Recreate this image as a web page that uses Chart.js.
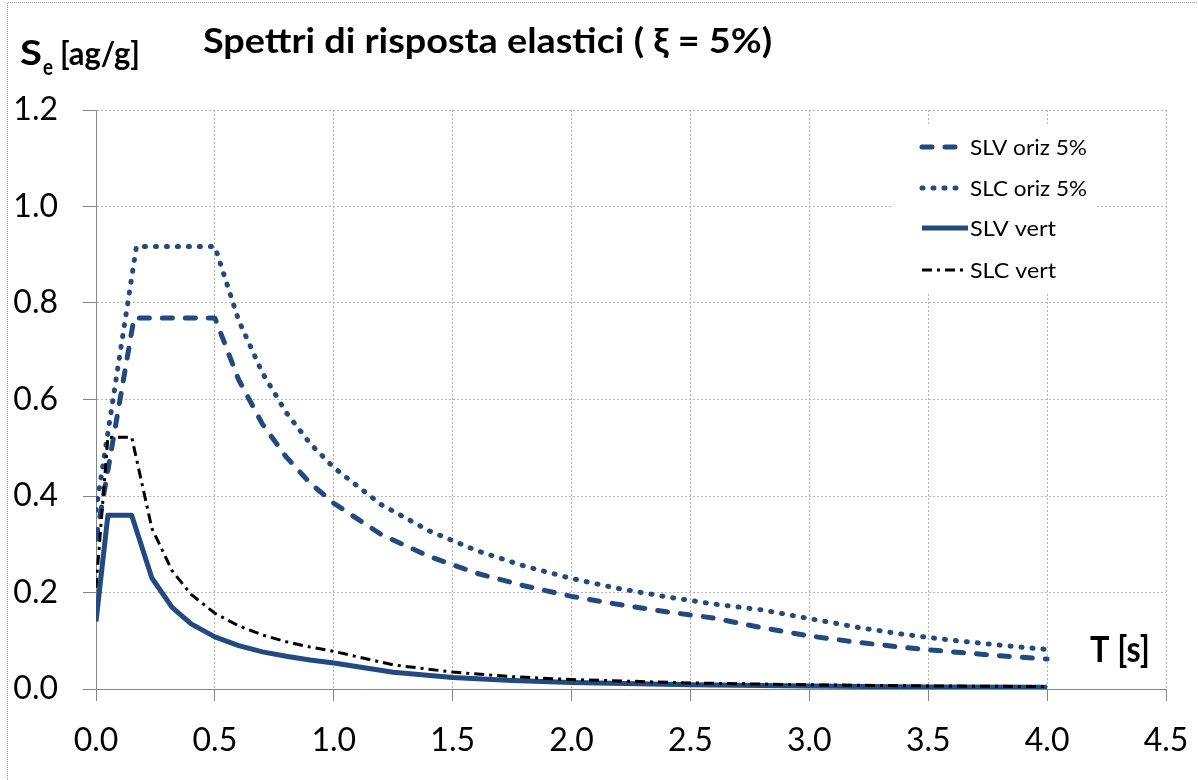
<!DOCTYPE html>
<html>
<head>
<meta charset="utf-8">
<script src="https://cdn.jsdelivr.net/npm/chart.js@4.4.0/dist/chart.umd.min.js"></script>
<style>
  html, body { margin: 0; padding: 0; background: #fff; }
  #wrap { width: 1198px; height: 780px; }
</style>
</head>
<body>
<div id="wrap"><canvas id="chart" width="1198" height="780"></canvas></div>
<script>
// periods [s] and spectral values [ag/g]
const tSlvOriz = [0, 0.16, 0.5, 0.6, 0.7, 0.8, 0.9, 1.0, 1.2, 1.4, 1.6, 1.8, 2.0, 2.2, 2.4, 2.6, 2.8, 3.0, 3.2, 3.4, 3.6, 3.8, 4.0];
const slvOriz  = [0.31, 0.769, 0.769, 0.641, 0.549, 0.481, 0.427, 0.385, 0.320, 0.275, 0.240, 0.214, 0.192, 0.175, 0.160, 0.147, 0.127, 0.110, 0.097, 0.086, 0.077, 0.069, 0.062];

const tSlcOriz = [0, 0.17, 0.5, 0.6, 0.7, 0.8, 0.9, 1.0, 1.2, 1.4, 1.6, 1.8, 2.0, 2.2, 2.4, 2.6, 2.8, 3.0, 3.2, 3.4, 3.6, 3.8, 4.0];
const slcOriz  = [0.37, 0.917, 0.917, 0.764, 0.655, 0.573, 0.509, 0.459, 0.382, 0.328, 0.287, 0.255, 0.229, 0.208, 0.191, 0.176, 0.164, 0.146, 0.128, 0.113, 0.101, 0.091, 0.082];

const tVert   = [0, 0.05, 0.15, 0.235, 0.32, 0.4, 0.5, 0.6, 0.7, 0.8, 0.9, 1.0, 1.25, 1.5, 1.75, 2.0, 2.5, 3.0, 3.5, 4.0];
const slvVert = [0.14, 0.36, 0.36, 0.23, 0.169, 0.135, 0.108, 0.090, 0.077, 0.068, 0.060, 0.054, 0.0346, 0.024, 0.0176, 0.0135, 0.0086, 0.006, 0.0044, 0.0034];
const slcVert = [0.21, 0.522, 0.522, 0.333, 0.245, 0.196, 0.157, 0.131, 0.112, 0.098, 0.087, 0.078, 0.050, 0.035, 0.0256, 0.0196, 0.0125, 0.0087, 0.0064, 0.0049];

const labels = ['SLV oriz 5%', 'SLC oriz 5%', 'SLV vert', 'SLC vert'];
const xTicks = [0, 0.5, 1.0, 1.5, 2.0, 2.5, 3.0, 3.5, 4.0, 4.5];
const yTicks = [0, 0.2, 0.4, 0.6, 0.8, 1.0, 1.2];

const BLUE = '#23497f';
const pts = (xs, ys) => xs.map((x, i) => ({ x, y: ys[i] }));

const styles = [
  { color: BLUE, width: 5, dash: [10, 13], cap: 'round' },
  { color: BLUE, width: 5, dash: [1, 10], cap: 'round' },
  { color: BLUE, width: 5, dash: [], cap: 'butt' },
  { color: '#000', width: 3, dash: [10, 5, 3, 5], cap: 'butt' }
];

// draw text stretched / squeezed to a given width
function fitText(ctx, text, x, y, w) {
  const m = ctx.measureText(text).width;
  ctx.save();
  ctx.translate(x, y);
  ctx.scale(w / m, 1);
  ctx.fillText(text, 0, 0);
  ctx.restore();
}

// texts, outer frame and legend box drawn by hand
const decor = {
  id: 'decor',
  beforeDraw(chart) {
    const ctx = chart.ctx;
    ctx.save();
    ctx.strokeStyle = '#9a9a9a';
    ctx.lineWidth = 1;
    ctx.setLineDash([1, 1]);
    ctx.beginPath();
    ctx.moveTo(7.5, 780); ctx.lineTo(7.5, 2.5); ctx.lineTo(1198, 2.5);
    ctx.stroke();
    ctx.restore();
  },
  afterDraw(chart) {
    const ctx = chart.ctx;
    ctx.save();
    ctx.fillStyle = '#000';
    ctx.textBaseline = 'alphabetic';
    ctx.textAlign = 'left';

    ctx.font = 'bold 34px Lato';
    fitText(ctx, 'Spettri di risposta elastici ( \u03BE = 5%)', 203, 53, 569);

    ctx.font = 'bold 35px Lato';
    fitText(ctx, 'S', 20, 65, 22);
    ctx.font = 'bold 23px Lato';
    fitText(ctx, 'e', 43, 75, 10);
    ctx.font = 'bold 33px Lato';
    fitText(ctx, '[ag/g]', 60, 65, 80);

    ctx.font = 'bold 36px Lato';
    fitText(ctx, 'T [s]', 1090, 662, 60);

    // legend
    ctx.fillStyle = '#fff';
    ctx.fillRect(892, 125, 204, 167);
    const rows = [147, 188, 228, 270];
    const ends = [960, 960, 968, 967];
    const widths = [117, 117, 86, 86];
    rows.forEach((y, i) => {
      const s = styles[i];
      ctx.save();
      ctx.strokeStyle = s.color;
      ctx.lineWidth = s.width;
      ctx.lineCap = s.cap;
      ctx.setLineDash(s.dash);
      ctx.beginPath();
      ctx.moveTo(922, y);
      ctx.lineTo(ends[i], y);
      ctx.stroke();
      ctx.restore();
      ctx.fillStyle = '#000';
      ctx.font = '22px Lato';
      fitText(ctx, labels[i], 970, y + 8, widths[i]);
    });
    ctx.restore();
  }
};

new Chart(document.getElementById('chart'), {
  type: 'scatter',
  data: {
    datasets: [
      { label: labels[0], data: pts(tSlvOriz, slvOriz), order: 3 },
      { label: labels[1], data: pts(tSlcOriz, slcOriz), order: 2 },
      { label: labels[2], data: pts(tVert, slvVert), order: 1 },
      { label: labels[3], data: pts(tVert, slcVert), order: 0 }
    ].map((d, i) => ({
      ...d,
      showLine: true,
      borderColor: styles[i].color,
      borderWidth: styles[i].width,
      borderDash: styles[i].dash,
      borderCapStyle: styles[i].cap,
      borderJoinStyle: 'round',
      pointRadius: 0,
      tension: 0,
      fill: false
    }))
  },
  options: {
    responsive: false,
    animation: false,
    layout: { padding: { top: 110, right: 32, left: 0, bottom: 0 } },
    plugins: {
      legend: { display: false },
      title: { display: false },
      tooltip: { enabled: false }
    },
    scales: {
      x: {
        type: 'linear',
        min: 0,
        max: 4.5,
        afterBuildTicks: (s) => { s.ticks = xTicks.map(v => ({ value: v })); },
        afterFit: (s) => { s.height = 91; s.paddingLeft = 0; s.paddingRight = 0; },
        ticks: {
          callback: (v) => v.toFixed(1),
          font: { family: 'Lato', size: 32 },
          color: '#000',
          padding: 20,
          maxRotation: 0
        },
        grid: { color: '#b5b5b5', tickColor: '#868686', tickLength: 12, tickBorderDash: [] },
        border: { display: true, color: '#868686', width: 1, dash: [2, 2] }
      },
      y: {
        min: 0,
        max: 1.2,
        afterBuildTicks: (s) => { s.ticks = yTicks.map(v => ({ value: v })); },
        afterFit: (s) => { s.width = 96; },
        ticks: {
          callback: (v) => v.toFixed(1),
          font: { family: 'Lato', size: 32 },
          color: '#000',
          padding: 25
        },
        grid: { color: '#b5b5b5', tickColor: '#868686', tickLength: 13, tickBorderDash: [] },
        border: { display: true, color: '#868686', width: 1, dash: [2, 2] }
      }
    }
  },
  plugins: [decor]
});
</script>
</body>
</html>
